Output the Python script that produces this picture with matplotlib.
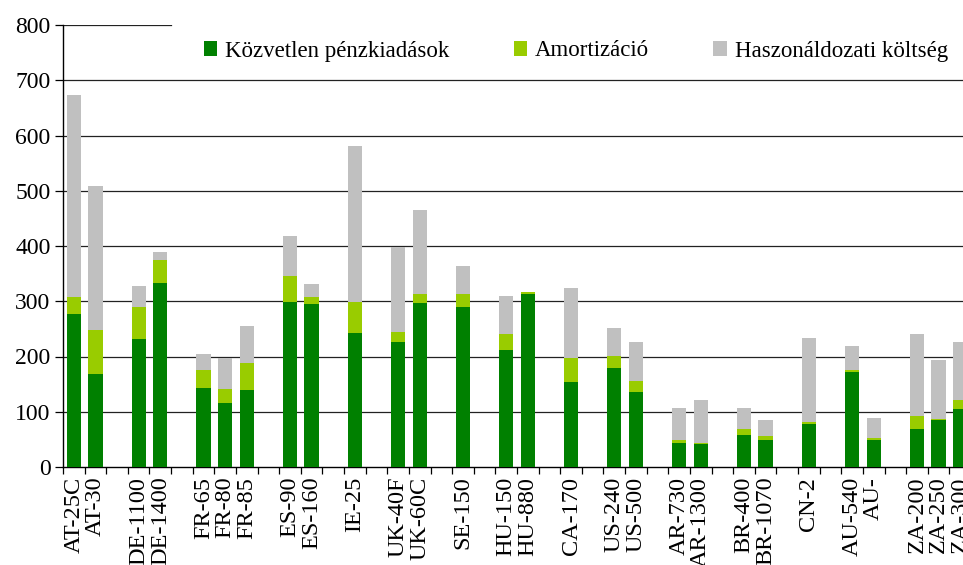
import matplotlib.pyplot as plt
import numpy as np

plt.rcParams['font.family'] = ['Liberation Serif', 'DejaVu Serif']

# slots: '' marks an empty gap between country groups
labels = ['AT-25C', 'AT-30', '', 'DE-1100', 'DE-1400', '', 'FR-65', 'FR-80', 'FR-85', '',
          'ES-90', 'ES-160', '', 'IE-25', '', 'UK-40F', 'UK-60C', '', 'SE-150', '',
          'HU-150', 'HU-880', '', 'CA-170', '', 'US-240', 'US-500', '', 'AR-730', 'AR-1300', '',
          'BR-400', 'BR-1070', '', 'CN-2', '', 'AU-540', 'AU-', '', 'ZA-200', 'ZA-250', 'ZA-300']

direct = [277, 168, 0, 232, 333, 0, 143, 116, 139, 0,
          299, 295, 0, 242, 0, 226, 297, 0, 290, 0,
          212, 313, 0, 154, 0, 179, 136, 0, 43, 41, 0,
          58, 49, 0, 78, 0, 172, 49, 0, 69, 85, 105]
amort = [31, 80, 0, 58, 42, 0, 33, 25, 49, 0,
         47, 13, 0, 56, 0, 18, 16, 0, 23, 0,
         29, 4, 0, 43, 0, 22, 20, 0, 6, 2, 0,
         11, 7, 0, 4, 0, 4, 4, 0, 23, 2, 16]
opport = [365, 261, 0, 38, 14, 0, 28, 57, 67, 0,
          72, 23, 0, 283, 0, 154, 152, 0, 51, 0,
          69, 0, 0, 127, 0, 51, 70, 0, 58, 78, 0,
          38, 29, 0, 152, 0, 43, 36, 0, 148, 107, 105]

series_names = ['Közvetlen pénzkiadások', 'Amortizáció', 'Haszonáldozati költség']
colors = ['#008000', '#99CC00', '#C0C0C0']

fig = plt.figure(figsize=(9.63, 5.65), dpi=100)
ax = fig.add_axes([63 / 963, 1 - 467 / 565, (971 - 63) / 963, 442 / 565])

n = len(labels)
x = np.arange(n) + 0.5
direct = np.array(direct)
amort = np.array(amort)
opport = np.array(opport)
w = 0.66

ax.bar(x, direct, w, color=colors[0], label=series_names[0], zorder=3)
ax.bar(x, amort, w, bottom=direct, color=colors[1], label=series_names[1], zorder=3)
ax.bar(x, opport, w, bottom=direct + amort, color=colors[2], label=series_names[2], zorder=3)

ax.set_xlim(0, n)
ax.set_ylim(0, 800)
ax.set_yticks(range(0, 801, 100))

# gridlines; the top one is partly hidden behind the legend in the original
for v in range(100, 800, 100):
    ax.axhline(v, color='#222222', lw=0.9, zorder=1)
ax.axhline(800, xmax=(171 - 63) / (971 - 63), color='#222222', lw=0.9, zorder=1)

ax.set_xticks(np.arange(n + 1))
ax.set_xticklabels([])
ax.set_xticks(x, minor=True)
ax.set_xticklabels(labels, minor=True, rotation=90, fontsize=17.5)
ax.tick_params(axis='x', which='major', length=5, width=0.9, direction='out')
ax.tick_params(axis='x', which='minor', length=0, pad=7)
ax.tick_params(axis='y', length=6, width=0.9, labelsize=17, pad=3)

for s in ['top', 'right']:
    ax.spines[s].set_visible(False)
for s in ['left', 'bottom']:
    ax.spines[s].set_linewidth(1.0)

ax.legend(loc='center left', bbox_to_anchor=(204 / 963, 1 - 51 / 565), bbox_transform=fig.transFigure,
          ncol=3, frameon=False, fontsize=16.5, handlelength=0.58, handleheight=0.58,
          handletextpad=0.35, columnspacing=2.8, borderpad=0, borderaxespad=0)

fig.savefig('out.png', dpi=100)
